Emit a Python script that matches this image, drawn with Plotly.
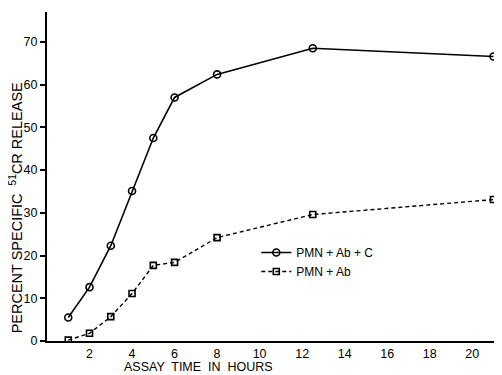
import plotly.graph_objects as go

hours = [1, 2, 3, 4, 5, 6, 8, 12.5, 21]
pmn_ab_c = [5.5, 12.6, 22.3, 35.1, 47.5, 57.0, 62.4, 68.5, 66.6]
pmn_ab = [0.2, 1.8, 5.7, 11.1, 17.7, 18.4, 24.2, 29.6, 33.1]
x_ticks = [2, 4, 6, 8, 10, 12, 14, 16, 18, 20]
y_ticks = [0, 10, 20, 30, 40, 50, 60, 70]

FONT = "Liberation Sans, Arial, sans-serif"

fig = go.Figure()
fig.add_trace(go.Scatter(
    x=hours, y=pmn_ab_c, mode="lines+markers", name="PMN + Ab + C",
    line=dict(color="black", width=1.6),
    marker=dict(symbol="circle-open", size=7, color="black", line=dict(width=1.6)),
))
fig.add_trace(go.Scatter(
    x=hours, y=pmn_ab, mode="lines+markers", name="PMN + Ab",
    line=dict(color="black", width=1.4, dash="4px,3px"),
    marker=dict(symbol="square-open", size=6, color="black", line=dict(width=1.6)),
))

# the page body adds an 8px margin, so the figure is sized to fill the rest
fig.update_layout(
    width=494, height=367,
    margin=dict(l=39, r=0, t=4, b=34),
    paper_bgcolor="white", plot_bgcolor="white",
    font=dict(family=FONT, size=12, color="black"),
    showlegend=True,
    legend=dict(x=0.46, y=0.313, xanchor="left", yanchor="top",
                bgcolor="rgba(0,0,0,0)", borderwidth=0,
                font=dict(size=12), tracegroupgap=0, itemwidth=30),
    xaxis=dict(range=[0, 21.4], tickvals=x_ticks, ticks="", showgrid=False,
               zeroline=False, showline=True, linecolor="black", linewidth=2,
               tickfont=dict(size=12.5)),
    yaxis=dict(range=[0, 77], tickvals=y_ticks, ticks="outside", ticklen=5,
               tickwidth=1.5, tickcolor="black", showgrid=False, zeroline=False,
               showline=True, linecolor="black", linewidth=2,
               tickfont=dict(size=12.5)),
    annotations=[
        dict(text="ASSAY  TIME  IN  HOURS", xref="paper", yref="paper",
             x=0.332, y=-0.079, xanchor="center", yanchor="middle",
             showarrow=False, font=dict(size=12.5)),
        dict(text="PERCENT SPECIFIC  <sup>51</sup>CR RELEASE", xref="paper", yref="paper",
             x=-0.069, y=0.405, xanchor="center", yanchor="middle",
             textangle=-90, showarrow=False, font=dict(size=14.5)),
    ],
)

fig.write_html("out.html")
